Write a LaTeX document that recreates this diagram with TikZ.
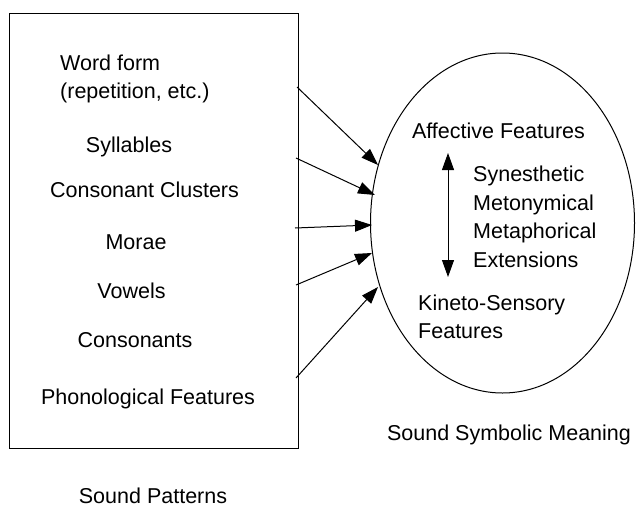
\documentclass[tikz,border=0pt]{standalone}
\usepackage{fontspec}
\setmainfont{Liberation Sans}
\usetikzlibrary{arrows.meta,shapes.geometric}
\begin{document}
\begin{tikzpicture}[x=1pt,y=-1pt,
  lbl/.style={font=\fontsize{21.5}{26}\selectfont, inner sep=0pt, anchor=base},
  lbll/.style={lbl, anchor=base west},
  frame/.style={draw, line width=1pt},
  arr/.style={line width=1pt, -{Triangle[length=17pt,width=12pt]}},
  darr/.style={line width=1pt, {Triangle[length=17pt,width=12pt]}-{Triangle[length=17pt,width=12pt]}}]
\useasboundingbox (0,0) rectangle (636,506);
% box
\node[frame, minimum width=289pt, minimum height=435pt, inner sep=0pt, anchor=north west] (box) at (8.5,12.5) {};
% ellipse
\node[draw, ellipse, line width=1pt, minimum width=264pt, minimum height=340pt, inner sep=0pt] (ell) at (502.5,223) {};
% left texts
\node[lbll] (wf) at (60,70) {Word form};
\node[lbll] (rep) at (60,98) {(repetition, etc.)};
\node[lbl] (syl) at (129,152) {Syllables};
\node[lbl] (cc) at (144.5,197) {Consonant Clusters};
\node[lbl] (mor) at (136,249) {Morae};
\node[lbl] (vow) at (131.5,298) {Vowels};
\node[lbl] (con) at (135,347) {Consonants};
\node[lbl] (phf) at (148,404) {Phonological Features};
\node[lbl] (sp) at (153,503) {Sound Patterns};
% right texts
\node[lbl] (aff) at (498.5,138) {Affective Features};
\node[lbll] (syn) at (473,181) {Synesthetic};
\node[lbll] (met) at (473,210) {Metonymical};
\node[lbll] (mph) at (473,238) {Metaphorical};
\node[lbll] (ext) at (473,267) {Extensions};
\node[lbll] (kin) at (418,310) {Kineto-Sensory};
\node[lbll] (kf) at (418,338) {Features};
\node[lbl] (ssm) at (509,440) {Sound Symbolic Meaning};
% arrow coordinates
\coordinate (s1) at (297,87);  \coordinate (e1) at (378,165);
\coordinate (s2) at (296,158); \coordinate (e2) at (375,195);
\coordinate (s3) at (295,228); \coordinate (e3) at (372,225);
\coordinate (s4) at (296,285); \coordinate (e4) at (372,253);
\coordinate (s5) at (296,378); \coordinate (e5) at (378,287);
\coordinate (v1) at (448,153); \coordinate (v2) at (448,277);
\foreach \i in {1,...,5} \draw[arr] (s\i) -- (e\i);
\draw[darr] (v1) -- (v2);
\end{tikzpicture}
\end{document}
